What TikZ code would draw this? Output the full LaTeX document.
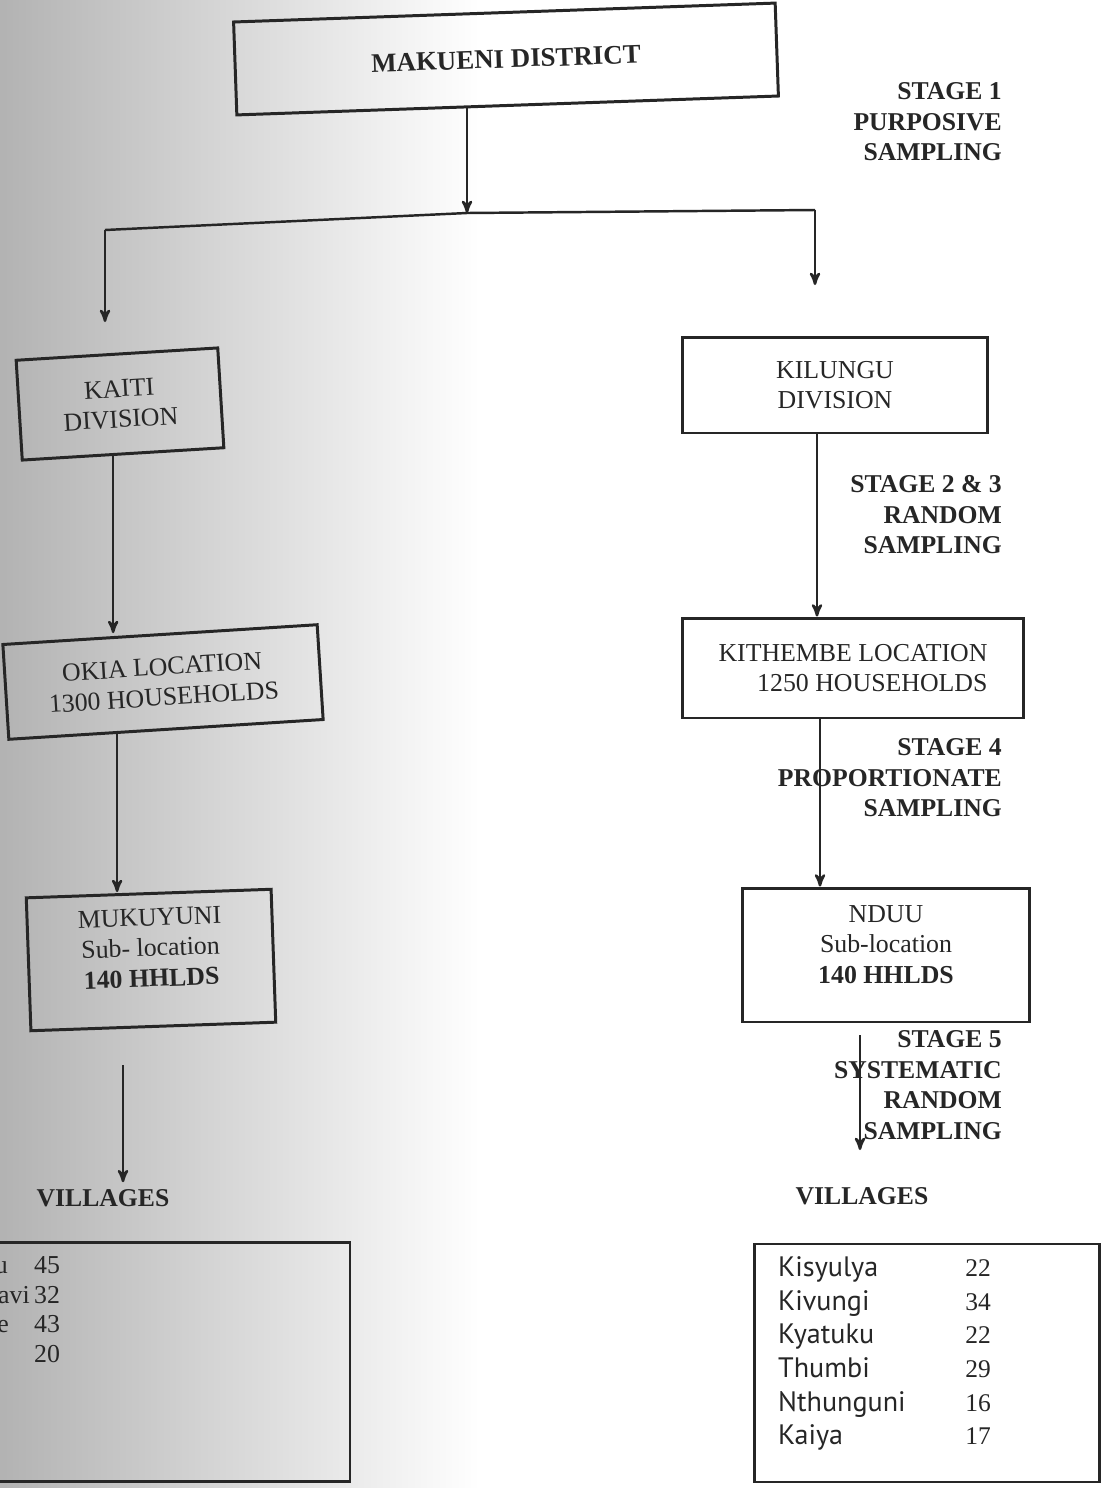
\documentclass[tikz,border=0pt]{standalone}
\usepackage{fontspec}
\setmainfont{Liberation Serif}
\newfontfamily\villagefont{PT Sans}
\usetikzlibrary{arrows,positioning}

\begin{document}
\begin{tikzpicture}[x=0.02cm,y=-0.02cm,->,>=stealth',line width=1.4pt,draw=black!85,
                    every node/.style={font=\fontsize{14.7}{17.4}\selectfont,text=black!85}]
  \tikzstyle{box}=[draw=black!85,line width=1.7pt,align=center,inner sep=2pt]
  \tikzstyle{stage}=[anchor=east,align=right,inner sep=0pt,font=\fontsize{14.6}{17.4}\selectfont\bfseries]

  % page and scan shade
  \clip (0,0) rectangle (1102,1488);
  \fill[white] (0,0) rectangle (1102,1488);
  \shade[left color=black!30,right color=white] (0,0) rectangle (480,1488);

  \node[box,rotate=2,minimum width=10.84cm,minimum height=1.86cm,
        font=\fontsize{15.3}{17.4}\selectfont\bfseries] (A) at (506,59) {MAKUENI DISTRICT};
  \node[stage] (S1) at (1003,122) {STAGE 1\\PURPOSIVE\\SAMPLING};

  \coordinate (J)  at (467,213);
  \coordinate (JL) at (105,230);
  \coordinate (JR) at (815,210);
  \coordinate (KL) at (105,322);
  \coordinate (KR) at (815,285);

  \node[box,rotate=3.5,minimum width=4.04cm,minimum height=2cm] (B) at (120,404) {KAITI\\DIVISION};
  \node[box,minimum width=6.1cm,minimum height=1.92cm] (C) at (835,385) {KILUNGU\\DIVISION};
  \node[stage] (S2) at (1003,515) {STAGE 2 \& 3\\RANDOM\\SAMPLING};

  \node[box,rotate=3.6,minimum width=6.3cm,minimum height=1.9cm] (D) at (163,682) {OKIA LOCATION\\1300 HOUSEHOLDS};
  \node[box,align=right,minimum width=6.82cm,minimum height=2cm] (F) at (853,668) {KITHEMBE LOCATION\\1250 HOUSEHOLDS};
  \node[stage] (S4) at (1003,778) {STAGE 4\\PROPORTIONATE\\SAMPLING};

  \node[box,rotate=2,text depth=14pt,minimum width=4.9cm,minimum height=2.66cm] (E) at (151,960) {MUKUYUNI\\Sub- location\\\textbf{140 HHLDS}};
  \node[box,text depth=12pt,minimum width=5.74cm,minimum height=2.68cm] (G) at (886,955) {NDUU\\Sub-location\\\textbf{140 HHLDS}};
  \node[stage] (S5) at (1003,1085) {STAGE 5\\SYSTEMATIC\\RANDOM\\SAMPLING};

  \node[font=\fontsize{14.6}{17.4}\selectfont\bfseries] (H) at (103,1198) {VILLAGES};
  \node[font=\fontsize{14.6}{17.4}\selectfont\bfseries] (I) at (862,1196) {VILLAGES};

  \coordinate (e1) at (123,1065);
  \coordinate (g1) at (860,1035);
  \coordinate (g2) at (860,1150);

  % village lists
  \node[box,line width=1.2pt,minimum width=7.4cm,minimum height=4.78cm] (L) at (165,1362) {};
  \node[box,line width=1.2pt,minimum width=6.9cm,minimum height=4.76cm] (R) at (927,1363) {};
  \foreach \f/\n/\y/\e in {u/45/1273/9,avi/32/1303/31,e/43/1332/10}{
    \node[anchor=base east,inner sep=0pt] at (\e,\y) {\f};
    \node[anchor=base west,inner sep=0pt] at (33,\y) {\n};
  }
  \node[anchor=base west,inner sep=0pt] at (33,1362) {20};
  \foreach \v/\n [count=\i] in {Kisyulya/22,Kivungi/34,Kyatuku/22,Thumbi/29,Nthunguni/16,Kaiya/17}{
    \node[anchor=base west,inner sep=0pt,font=\villagefont\fontsize{16}{18}\selectfont] (v\i) at (777,{1243+33.6*\i}) {\v};
    \node[anchor=base,inner sep=0pt,font=\fontsize{14.5}{18}\selectfont] (n\i) at (978,{1243+33.6*\i}) {\n};
  }

  % connectors
  \draw (A.south -| J) -- (J);
  \draw[-] (JL) -- (J) -- (JR);
  \draw (JL) -- (KL);
  \draw (JR) -- (KR);
  \draw ([xshift=-0.2cm]B.south) -- ([xshift=-0.2cm]B.south |- D.north);
  \draw ([xshift=-0.98cm]D.south) -- ([xshift=-0.98cm]D.south |- E.north);
  \draw (e1) -- (e1 |- H.north);
  \draw ([xshift=-0.36cm]C.south) -- ([xshift=-0.36cm]C.south |- F.north);
  \draw ([xshift=-0.66cm]F.south) -- ([xshift=-0.66cm]F.south |- G.north);
  \draw (g1) -- (g2);
\end{tikzpicture}
\end{document}
